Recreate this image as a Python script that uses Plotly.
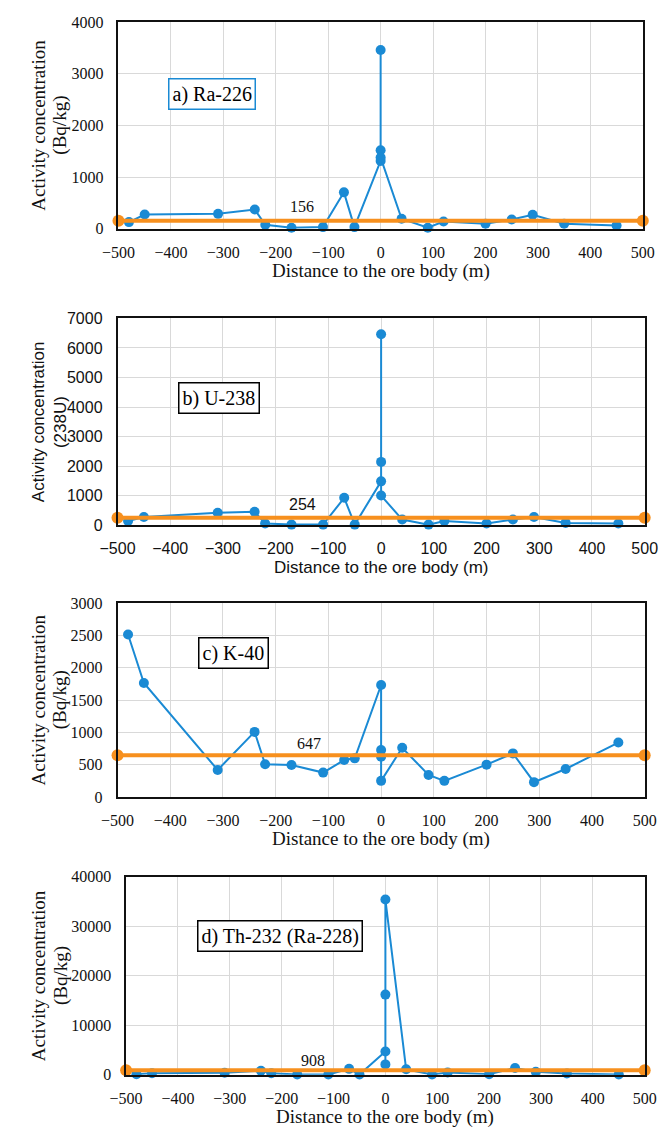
import plotly.graph_objects as go

# Distance to the ore body (m), shared by all panels
distance = [-480, -450, -310, -240, -220, -170, -110, -70, -50, 0, 0, 0, 0, 40, 90, 120, 200, 250, 290, 350, 450]

ra226 = [128, 275, 288, 371, 77, 20, 32, 704, 32, 1312, 3456, 1517, 1376, 192, 20, 141, 96, 179, 269, 96, 64]
u238 = [145, 280, 424, 458, 56, 20, 20, 926, 20, 1484, 6462, 2143, 1004, 190, 20, 145, 56, 190, 280, 78, 56]
k40 = [2514, 1763, 419, 1007, 506, 496, 378, 572, 598, 1732, 726, 623, 250, 761, 342, 250, 501, 675, 230, 434, 843]
th232 = [100, 300, 400, 800, 300, 50, 50, 1200, 50, 4700, 2100, 16200, 35400, 1100, 50, 450, 130, 1380, 590, 260, 50]

mean_x = [-500, 500]
means = [156, 254, 647, 908]
panel_labels = ["a) Ra-226", "b) U-238", "c) K-40", "d) Th-232 (Ra-228)"]
y_title_line1 = ["Activity concentration"] * 4
y_title_line2 = ["(Bq/kg)", "(238U)", "(Bq/kg)", "(Bq/kg)"]
y_max = [4000, 7000, 3000, 40000]
y_dtick = [1000, 1000, 500, 10000]
x_ticks = [-500, -400, -300, -200, -100, 0, 100, 200, 300, 400, 500]

# layout geometry (page pixels); the page body adds an 8 px offset
OFF = 8
W, H = 672 - OFF, 1135 - OFF
# (left, right, top, bottom) of each plot area in page pixels
areas = [(105, 655, 14, 224), (104, 657, 315, 525), (104, 657, 604, 801), (113, 657, 882, 1083)]
mean_label_pos = [(-150, 430), (-150, 700), (-137, 826), (-139, 2985)]
box_pos = [(-322, 2600), (-308, 4320), (-280, 2220), (-203, 28100)]
box_border = ["#1a8ad4", "#000000", "#000000", "#000000"]

BLUE = "#1a8ad4"
ORANGE = "#f7901e"
SERIF = "Liberation Serif"
SANS = "Liberation Sans"
fonts = [SERIF, SANS, SERIF, SERIF]

series = [ra226, u238, k40, th232]


def px(v):
    return (v - OFF) / W


def py(v):
    return 1 - (v - OFF) / H


fig = go.Figure()
annotations = []
layout = {}
for i in range(4):
    n = "" if i == 0 else str(i + 1)
    xa, ya = "x" + n, "y" + n
    l, r, t, b = areas[i]
    f = fonts[i]
    tsize = 19 if f == SERIF else 17
    fig.add_trace(go.Scatter(x=distance, y=series[i], xaxis=xa, yaxis=ya, mode="lines+markers",
                             line=dict(color=BLUE, width=2), marker=dict(color=BLUE, size=10),
                             cliponaxis=False, showlegend=False))
    fig.add_trace(go.Scatter(x=mean_x, y=[means[i], means[i]], xaxis=xa, yaxis=ya, mode="lines+markers",
                             line=dict(color=ORANGE, width=4), marker=dict(color=ORANGE, size=12),
                             cliponaxis=False, showlegend=False))
    layout["xaxis" + n] = dict(domain=[px(l), px(r)], anchor=ya, range=[-500, 500], tickvals=x_ticks,
                               showgrid=True, gridcolor="#d9d9d9", gridwidth=1.2, zeroline=False,
                               showline=True, mirror=True, linecolor="#111", linewidth=1.5,
                               tickfont=dict(family=f, size=16, color="#111"), ticklabelstandoff=8)
    layout["yaxis" + n] = dict(domain=[py(b), py(t)], anchor=xa, range=[0, y_max[i]], dtick=y_dtick[i],
                               tickformat="d", showgrid=True, gridcolor="#d9d9d9", gridwidth=1.2, zeroline=False,
                               showline=True, mirror=True, linecolor="#111", linewidth=1.5,
                               tickfont=dict(family=f, size=16, color="#111"), ticklabelstandoff=10)
    # mean label
    annotations.append(dict(x=mean_label_pos[i][0], y=mean_label_pos[i][1], xref=xa, yref=ya,
                            text=str(means[i]), showarrow=False,
                            font=dict(family=f, size=16, color="#111")))
    # panel label box
    annotations.append(dict(x=box_pos[i][0], y=box_pos[i][1], xref=xa, yref=ya, text=panel_labels[i],
                            showarrow=False, bgcolor="white", bordercolor=box_border[i], borderwidth=1.5,
                            borderpad=3, font=dict(family=SERIF, size=20, color="#000")))
    # y title (two lines)
    for xpx, txt in ((21, y_title_line1[i]), (44, y_title_line2[i])):
        annotations.append(dict(x=px(xpx), y=py((t + b) / 2), xref="paper", yref="paper",
                                text=txt, textangle=-90, showarrow=False,
                                xanchor="center", yanchor="middle",
                                font=dict(family=f, size=tsize, color="#111")))
    # x title
    annotations.append(dict(x=px((l + r) / 2), y=py(b + 43), xref="paper", yref="paper",
                            text="Distance to the ore body (m)", showarrow=False,
                            xanchor="center", yanchor="middle",
                            font=dict(family=f, size=tsize, color="#111")))

fig.update_layout(width=W, height=H, margin=dict(l=0, r=0, t=0, b=0),
                  paper_bgcolor="white", plot_bgcolor="white", annotations=annotations, **layout)
fig.write_html("out.html")
